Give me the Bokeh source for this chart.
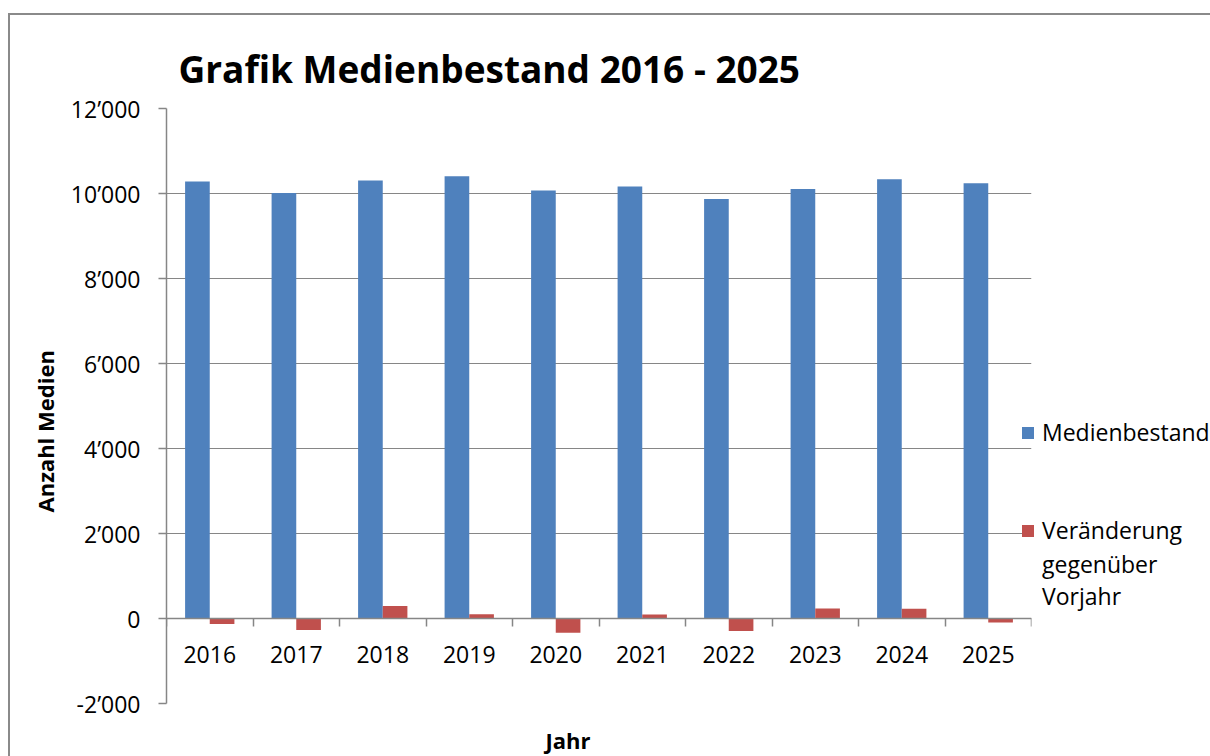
from bokeh.plotting import figure
from bokeh.models import (FixedTicker, Range1d, Legend, LegendItem, Title,
                          ColumnDataSource)
from bokeh.transform import dodge
from bokeh.embed import file_html
from bokeh.resources import INLINE

years = ["2016", "2017", "2018", "2019", "2020", "2021", "2022", "2023", "2024", "2025"]
medienbestand = [10282, 10014, 10306, 10407, 10071, 10165, 9873, 10108, 10336, 10242]
veraenderung = [-127, -268, 292, 101, -336, 94, -292, 235, 228, -94]
y_ticks = [-2000, 0, 2000, 4000, 6000, 8000, 10000, 12000]
y_tick_labels = ["-2’000", "0", "2’000", "4’000", "6’000", "8’000", "10’000", "12’000"]

FONT = "Open Sans"
GRAY = "#868686"

x_center = [i + 0.5 for i in range(len(years))]
x_bounds = list(range(len(years) + 1))

source = ColumnDataSource(dict(x=x_center, bestand=medienbestand, ver=veraenderung))

p = figure(x_range=Range1d(0, len(years)), y_range=Range1d(-2000, 12000),
           frame_width=865, frame_height=595,
           min_border_left=156, min_border_right=178, min_border_top=93, min_border_bottom=52,
           output_backend="svg", toolbar_location=None)
p.styles = {"position": "relative", "top": "15px", "left": "10px",
            "box-shadow": "-2px -2px 0px 0px #8a8a8a"}
p.outline_line_color = None
p.background_fill_color = "white"
p.border_fill_color = "white"

r1 = p.vbar(x=dodge("x", -0.1425, range=p.x_range), top="bestand", width=0.285,
            source=source, fill_color="#4F81BD", line_color=None)
r2 = p.vbar(x=dodge("x", 0.1425, range=p.x_range), top="ver", bottom=0, width=0.285,
            source=source, fill_color="#C0504D", line_color=None)
# invisible renderer: carries legend spacer rows and the continuation lines of the label
r_blank = p.vbar(x=[], top=[], width=0.285, fill_alpha=0, line_alpha=0)

# x axis crossing at zero
xa = p.xaxis[0]
xa.fixed_location = 0
xa.ticker = FixedTicker(ticks=x_center, minor_ticks=x_bounds)
xa.major_label_overrides = {c: y for c, y in zip(x_center, years)}
xa.major_tick_line_color = None
xa.major_tick_in = 0
xa.major_tick_out = 0
xa.minor_tick_line_color = GRAY
xa.minor_tick_line_width = 1.5
xa.minor_tick_in = 0
xa.minor_tick_out = 8
xa.axis_line_color = GRAY
xa.axis_line_width = 1.5
xa.major_label_standoff = 19
xa.major_label_text_font = FONT
xa.major_label_text_font_size = "23px"
xa.major_label_text_color = "black"

ya = p.yaxis[0]
ya.ticker = FixedTicker(ticks=y_ticks, minor_ticks=[])
ya.major_label_overrides = {t: l for t, l in zip(y_ticks, y_tick_labels)}
ya.major_tick_line_color = GRAY
ya.major_tick_line_width = 1.5
ya.major_tick_in = 0
ya.major_tick_out = 8
ya.minor_tick_line_color = None
ya.axis_line_color = GRAY
ya.axis_line_width = 1.5
ya.major_label_standoff = 18
ya.major_label_text_font = FONT
ya.major_label_text_font_size = "23px"
ya.major_label_text_color = "black"

p.xgrid.visible = False
p.ygrid.ticker = FixedTicker(ticks=y_ticks, minor_ticks=[])
p.ygrid.grid_line_color = GRAY
p.ygrid.grid_line_width = 1.2

p.title.text = "Grafik Medienbestand 2016 - 2025"
p.title.text_font = FONT
p.title.text_font_style = "bold"
p.title.text_font_size = "37px"
p.title.text_color = "black"
p.title.align = "left"
p.title.offset = 12
p.title.standoff = 30

p.add_layout(Title(text="Anzahl Medien", align="left", offset=191, standoff=16,
                   vertical_align="bottom",
                   text_font=FONT, text_font_style="bold", text_font_size="22px",
                   text_color="black"), "left")
p.add_layout(Title(text="Jahr", align="left", offset=379, standoff=42,
                   vertical_align="top",
                   text_font=FONT, text_font_style="bold", text_font_size="22px",
                   text_color="black"), "below")

legend = Legend(items=[LegendItem(label="Medienbestand", renderers=[r1]),
                       LegendItem(label=" ", renderers=[r_blank]),
                       LegendItem(label="  ", renderers=[r_blank]),
                       LegendItem(label="Veränderung", renderers=[r2]),
                       LegendItem(label="gegenüber\nVorjahr", renderers=[r_blank])],
                location=(-11, 91), orientation="vertical", spacing=2,
                glyph_width=15, glyph_height=15, label_standoff=7, label_height=30,
                padding=0, margin=0, border_line_color=None, background_fill_alpha=0,
                label_text_font=FONT, label_text_font_size="23px",
                label_text_color="black")
p.add_layout(legend, "right")

open("out.html", "w").write(file_html(p, INLINE))
